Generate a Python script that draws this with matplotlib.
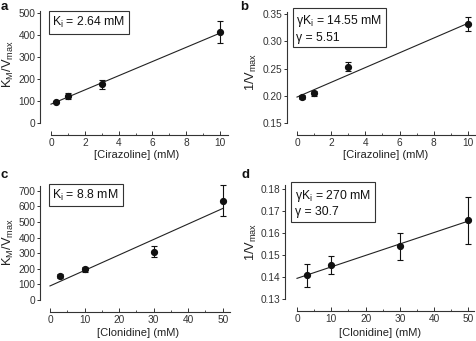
import matplotlib
matplotlib.use("Agg")
import matplotlib.pyplot as plt
from matplotlib.ticker import MultipleLocator

plt.rcParams['font.family'] = ['Liberation Sans', 'DejaVu Sans']
plt.rcParams['mathtext.default'] = 'regular'

# ---------------- data ----------------
cir_x = [0.3, 1, 3, 10]
a_y = [95, 124, 177, 413]
a_err = [5, 14, 22, 50]
a_fit_x = [0, 10]
a_fit_y = [87, 410]

b_y = [0.1976, 0.2049, 0.2537, 0.3317]
b_err = [0.004, 0.005, 0.008, 0.0128]
b_fit_x = [0, 10]
b_fit_y = [0.198, 0.333]

clo_x = [3, 10, 30, 50]
c_y = [154, 196, 309, 636]
c_err = [15, 14, 36, 99]
c_fit_x = [0, 50]
c_fit_y = [90, 586]

d_y = [0.1408, 0.1455, 0.1540, 0.1659]
d_err = [0.0051, 0.0040, 0.0062, 0.0107]
d_fit_x = [0, 50]
d_fit_y = [0.1395, 0.1655]

W, H = 477, 341
fig = plt.figure(figsize=(W / 100, H / 100), dpi=100)


def px_axes(l, t, r, b):
    return fig.add_axes([l / W, 1 - b / H, (r - l) / W, (b - t) / H])


def style(ax, xlim, ylim, xmaj, xmin, ymaj, left_out, bottom_out):
    ax.set_xlim(*xlim)
    ax.set_ylim(*ylim)
    ax.patch.set_alpha(0)
    for s in ('top', 'right'):
        ax.spines[s].set_visible(False)
    ax.spines['left'].set_position(('outward', left_out * 0.72))
    ax.spines['bottom'].set_position(('outward', bottom_out * 0.72))
    ax.spines['left'].set_bounds(ylim[0], ylim[1])
    ax.spines['bottom'].set_bounds(xlim[0], xlim[1])
    for s in ('left', 'bottom'):
        ax.spines[s].set_linewidth(0.8)
        ax.spines[s].set_color('#333333')
    ax.xaxis.set_major_locator(MultipleLocator(xmaj))
    ax.xaxis.set_minor_locator(MultipleLocator(xmin))
    ax.yaxis.set_major_locator(MultipleLocator(ymaj))
    ax.tick_params(axis='x', which='major', direction='in', length=3, width=0.7,
                   labelsize=7.3, pad=2.5, colors='#333333')
    ax.tick_params(axis='x', which='minor', direction='in', length=1.8, width=0.6,
                   colors='#333333')
    ax.tick_params(axis='y', which='major', direction='out', length=2.4, width=0.7,
                   labelsize=7.3, pad=1, colors='#333333')


def plot_data(ax, x, y, err, fx, fy):
    ax.plot(fx, fy, color='#222222', lw=0.8, clip_on=False)
    ax.errorbar(x, y, yerr=err, fmt='o', color='#111111', ms=4.2, capsize=2.2,
                elinewidth=0.8, capthick=0.8, clip_on=False)


# panel a
ax_a = px_axes(51, 11.1, 228.5, 123.3)
style(ax_a, (0, 10.5), (0, 510), 2, 1, 100, 11, 11.7)
plot_data(ax_a, cir_x, a_y, a_err, a_fit_x, a_fit_y)

# panel b
ax_b = px_axes(297, 11.8, 474.8, 123.3)
style(ax_b, (0, 10.4), (0.15, 0.354), 2, 1, 0.05, 10, 11.7)
ax_b.yaxis.set_major_formatter(matplotlib.ticker.FormatStrFormatter('%.2f'))
plot_data(ax_b, cir_x, b_y, b_err, b_fit_x, b_fit_y)

# panel c
ax_c = px_axes(50, 186, 229.6, 300)
style(ax_c, (0, 52), (0, 730), 10, 5, 100, 10, 11.7)
plot_data(ax_c, clo_x, c_y, c_err, c_fit_x, c_fit_y)

# panel d
ax_d = px_axes(297, 185.3, 473.6, 299.3)
style(ax_d, (0, 51.5), (0.13, 0.1817), 10, 5, 0.01, 12, 11.7)
ax_d.yaxis.set_major_formatter(matplotlib.ticker.FormatStrFormatter('%.2f'))
plot_data(ax_d, clo_x, d_y, d_err, d_fit_x, d_fit_y)


def ftext(x, y, s, **kw):
    return fig.text(x / W, 1 - y / H, s, **kw)


tc = '#222222'
# panel letters
for (x, y, s) in [(4.5, 6.5, 'a'), (244, 6.5, 'b'), (4.5, 175, 'c'), (246, 175.5, 'd')]:
    ftext(x, y, s, fontsize=9.5, fontweight='bold', ha='center', va='center', color='#111111')

# y labels
ylab_kw = dict(rotation=90, ha='center', va='center', fontsize=9.3, color=tc)
ftext(8, 64, r'K$_M$/V$_{max}$', **ylab_kw)
ftext(251, 72, r'1/V$_{max}$', **ylab_kw)
ftext(8, 242, r'K$_M$/V$_{max}$', **ylab_kw)
ftext(251, 242, r'1/V$_{max}$', **ylab_kw)

# x labels
ftext(137, 155, '[Cirazoline] (mM)', ha='center', va='center', fontsize=8, color=tc)
ftext(386, 155, '[Cirazoline] (mM)', ha='center', va='center', fontsize=8, color=tc)
ftext(138, 333, '[Clonidine] (mM)', ha='center', va='center', fontsize=8, color=tc)
ftext(380, 333, '[Clonidine] (mM)', ha='center', va='center', fontsize=8, color=tc)

bbox = dict(boxstyle='square,pad=0.3', fc='white', ec='#333333', lw=0.8)
ftext(52.5, 22.5, r'K$_i$ = 2.64 mM', ha='left', va='center', fontsize=8.8, color='#111111', bbox=bbox)
ftext(296.5, 28.5, 'γK$_i$ = 14.55 mM\nγ = 5.51', ha='left', va='center', fontsize=8.8,
      color='#111111', bbox=bbox, linespacing=1.25)
ftext(52.5, 195, r'K$_i$ = 8.8 mM', ha='left', va='center', fontsize=8.8, color='#111111', bbox=bbox)
ftext(295, 203, 'γK$_i$ = 270 mM\nγ = 30.7', ha='left', va='center', fontsize=8.8,
      color='#111111', bbox=bbox, linespacing=1.25)

fig.savefig('out.png', dpi=100)
